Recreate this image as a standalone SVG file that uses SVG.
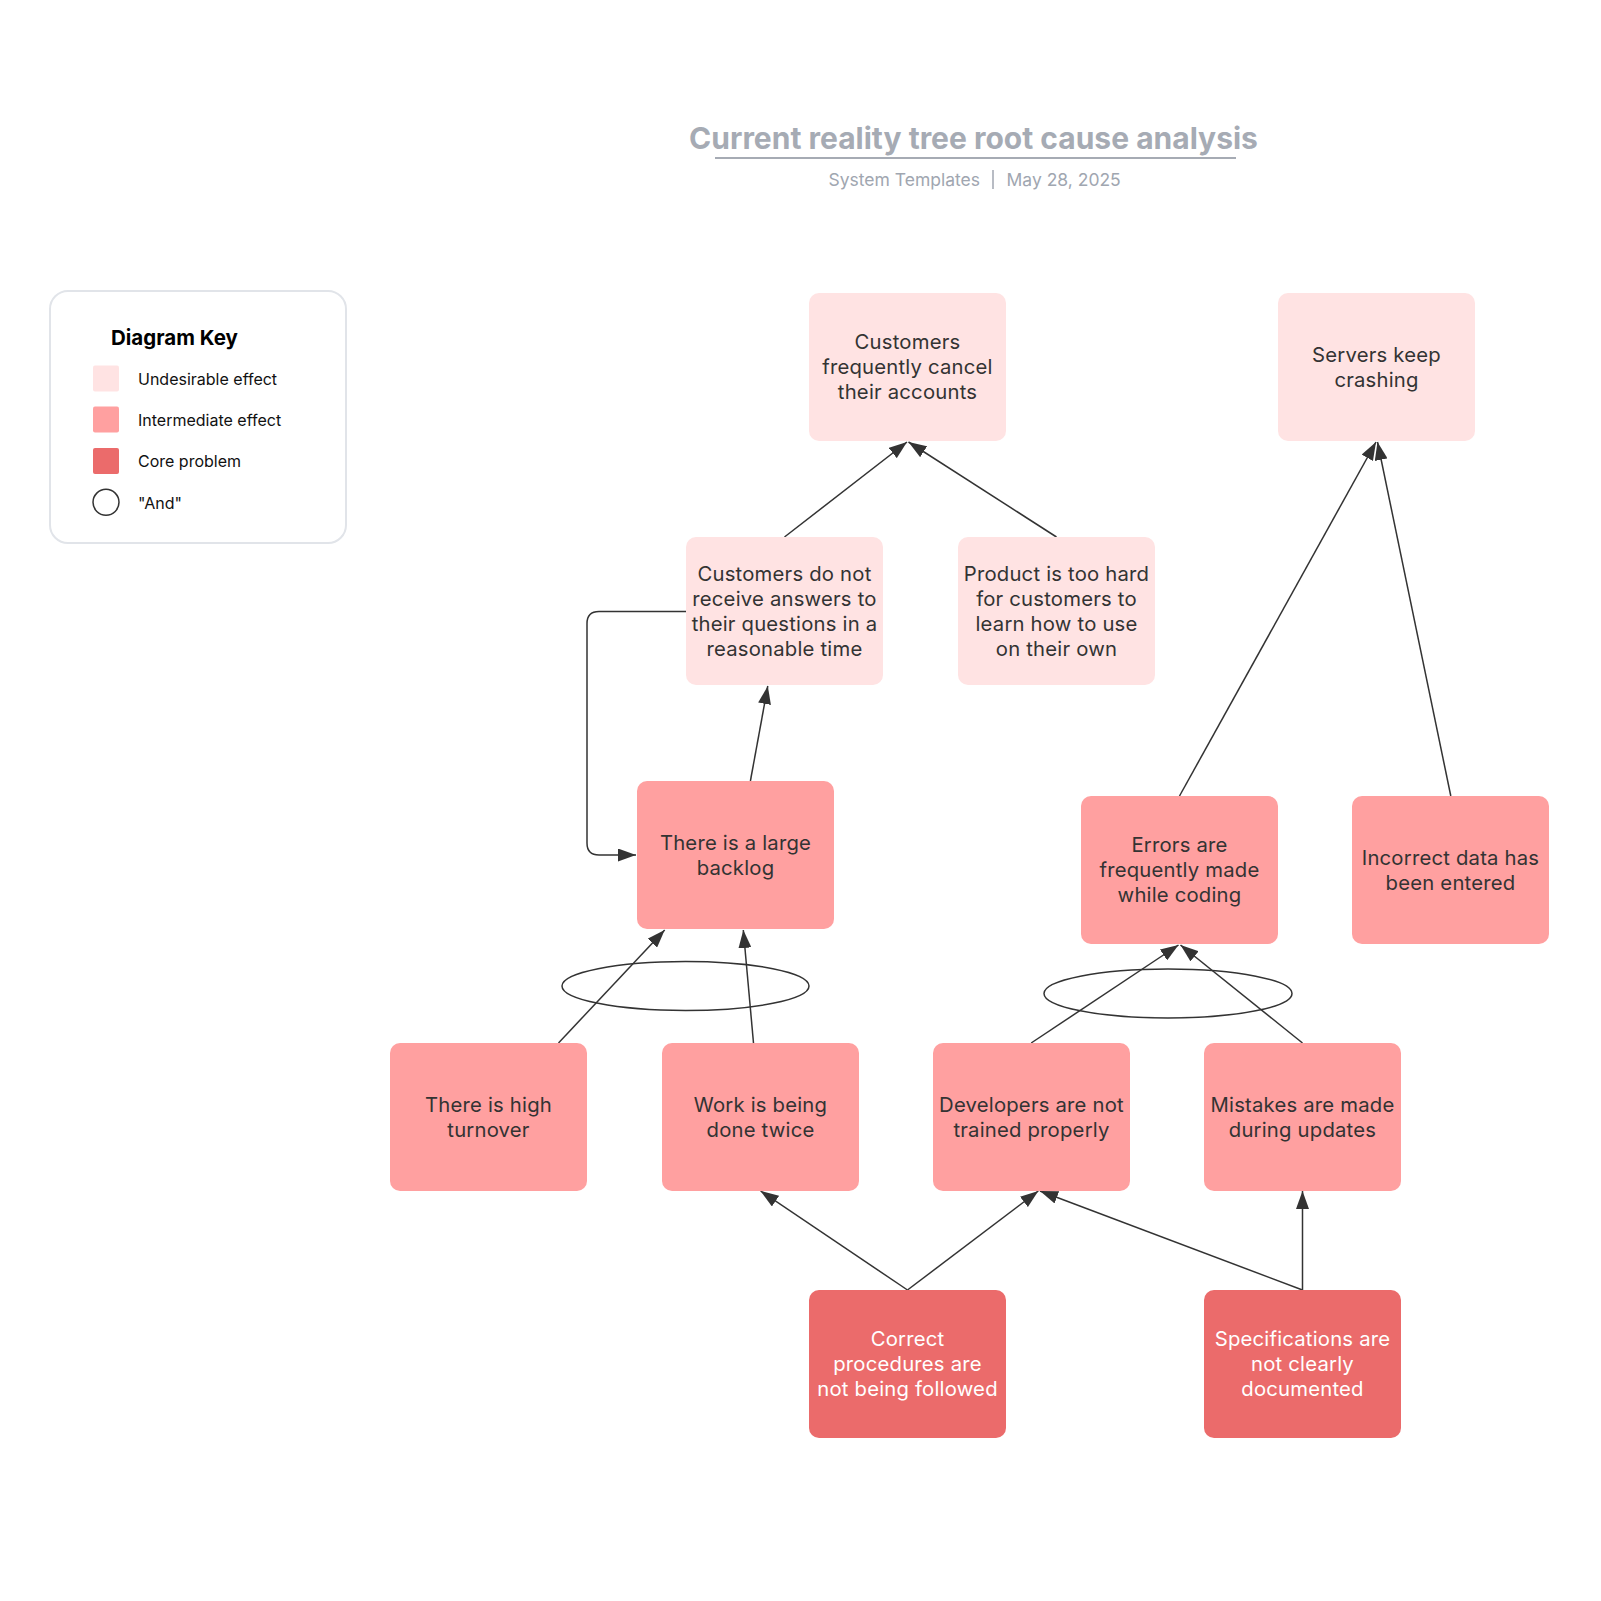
<svg xmlns="http://www.w3.org/2000/svg" width="1601" height="1601" viewBox="0 0 1601 1601">
<style>
  .ue{fill:#FFE3E3}
  .ie{fill:#FFA0A0}
  .cp{fill:#EB6B6B}
  .t{font-family:Inter,"Noto Sans","Liberation Sans",sans-serif;font-size:20.3px;fill:#333333;text-anchor:middle;letter-spacing:0.2px}
  .tw{fill:#FFFFFF}
  .k{font-family:Inter,"Noto Sans","Liberation Sans",sans-serif;font-size:16px;fill:#111111}
  .c{fill:none;stroke:#333333;stroke-width:1.5}
</style>
<defs>
  <marker id="ah" viewBox="0 0 18 13" refX="18" refY="6.5" markerWidth="18" markerHeight="13" markerUnits="userSpaceOnUse" orient="auto">
    <path d="M0,0 L18,6.5 L0,13 z" fill="#333333"/>
  </marker>
</defs>
<rect width="1601" height="1601" fill="#FFFFFF"/>

<g id="title">
  <text x="973.5" y="149" font-family="Inter,'Noto Sans','Liberation Sans',sans-serif" font-size="30" font-weight="bold" fill="#A6ABB4" text-anchor="middle">Current reality tree root cause analysis</text>
  <line x1="715" y1="158" x2="1236" y2="158" stroke="#A6ABB4" stroke-width="2"/>
  <text x="980" y="186" font-family="Inter,'Noto Sans','Liberation Sans',sans-serif" font-size="17.5" fill="#A0A6B0" text-anchor="end">System Templates</text>
  <line x1="993" y1="170" x2="993" y2="189" stroke="#A0A6B0" stroke-width="1.5"/>
  <text x="1006.5" y="186" font-family="Inter,'Noto Sans','Liberation Sans',sans-serif" font-size="17.5" fill="#A0A6B0">May 28, 2025</text>
</g>

<g id="legend">
  <rect x="50" y="291" width="296" height="252" rx="18" fill="#FFFFFF" stroke="#E1E4E9" stroke-width="2"/>
  <text x="111" y="345" font-family="Inter,'Noto Sans','Liberation Sans',sans-serif" font-size="20.5" font-weight="bold" fill="#000000">Diagram Key</text>
  <rect x="93" y="365.5" width="26" height="26" rx="2" class="ue"/>
  <text x="138" y="384.5" class="k">Undesirable effect</text>
  <rect x="93" y="406.5" width="26" height="26" rx="2" class="ie"/>
  <text x="138" y="425.5" class="k">Intermediate effect</text>
  <rect x="93" y="448" width="26" height="26" rx="2" class="cp"/>
  <text x="138" y="467" class="k">Core problem</text>
  <circle cx="106" cy="502.3" r="13" fill="#FFFFFF" stroke="#333333" stroke-width="1.5"/>
  <text x="138" y="508.5" class="k">"And"</text>
</g>

<g id="connectors">
  <line class="c" x1="784.5" y1="537" x2="907" y2="442" marker-end="url(#ah)"/>
  <line class="c" x1="1056.5" y1="537" x2="908.5" y2="442" marker-end="url(#ah)"/>
  <line class="c" x1="750.4" y1="781" x2="767.8" y2="686" marker-end="url(#ah)"/>
  <path class="c" d="M686,611.6 H599 Q587,611.6 587,623.6 V843 Q587,855 599,855 H636" marker-end="url(#ah)"/>
  <line class="c" x1="558.5" y1="1043" x2="664.7" y2="930" marker-end="url(#ah)"/>
  <line class="c" x1="753.5" y1="1043" x2="743.3" y2="930" marker-end="url(#ah)"/>
  <ellipse class="c" cx="685.5" cy="986" rx="123.5" ry="24.5"/>
  <line class="c" x1="1031.2" y1="1043" x2="1178.5" y2="945" marker-end="url(#ah)"/>
  <line class="c" x1="1302.5" y1="1043" x2="1180.5" y2="945" marker-end="url(#ah)"/>
  <ellipse class="c" cx="1168" cy="993.5" rx="124" ry="24.5"/>
  <line class="c" x1="1179.5" y1="796" x2="1376" y2="442" marker-end="url(#ah)"/>
  <line class="c" x1="1450.8" y1="796" x2="1377.5" y2="442" marker-end="url(#ah)"/>
  <line class="c" x1="907.5" y1="1290" x2="760.6" y2="1191" marker-end="url(#ah)"/>
  <line class="c" x1="907.5" y1="1290" x2="1038.3" y2="1191" marker-end="url(#ah)"/>
  <line class="c" x1="1302.5" y1="1290" x2="1040" y2="1191" marker-end="url(#ah)"/>
  <line class="c" x1="1302.5" y1="1290" x2="1302.5" y2="1191" marker-end="url(#ah)"/>
</g>

<g id="n-cancel">
  <rect x="809" y="293" width="197" height="148" rx="10" class="ue"/>
  <text class="t"><tspan x="907.5" y="349">Customers</tspan><tspan x="907.5" y="374">frequently cancel</tspan><tspan x="907.5" y="399">their accounts</tspan></text>
</g>
<g id="n-servers">
  <rect x="1278" y="293" width="197" height="148" rx="10" class="ue"/>
  <text class="t"><tspan x="1376.5" y="362">Servers keep</tspan><tspan x="1376.5" y="387">crashing</tspan></text>
</g>
<g id="n-answers">
  <rect x="686" y="537" width="197" height="148" rx="10" class="ue"/>
  <text class="t"><tspan x="784.5" y="581">Customers do not</tspan><tspan x="784.5" y="606">receive answers to</tspan><tspan x="784.5" y="631">their questions in a</tspan><tspan x="784.5" y="656">reasonable time</tspan></text>
</g>
<g id="n-product">
  <rect x="958" y="537" width="197" height="148" rx="10" class="ue"/>
  <text class="t"><tspan x="1056.5" y="581">Product is too hard</tspan><tspan x="1056.5" y="606">for customers to</tspan><tspan x="1056.5" y="631">learn how to use</tspan><tspan x="1056.5" y="656">on their own</tspan></text>
</g>
<g id="n-backlog">
  <rect x="637" y="781" width="197" height="148" rx="10" class="ie"/>
  <text class="t"><tspan x="735.5" y="850">There is a large</tspan><tspan x="735.5" y="875">backlog</tspan></text>
</g>
<g id="n-errors">
  <rect x="1081" y="796" width="197" height="148" rx="10" class="ie"/>
  <text class="t"><tspan x="1179.5" y="852">Errors are</tspan><tspan x="1179.5" y="877">frequently made</tspan><tspan x="1179.5" y="902">while coding</tspan></text>
</g>
<g id="n-incorrect">
  <rect x="1352" y="796" width="197" height="148" rx="10" class="ie"/>
  <text class="t"><tspan x="1450.5" y="865">Incorrect data has</tspan><tspan x="1450.5" y="890">been entered</tspan></text>
</g>
<g id="n-turnover">
  <rect x="390" y="1043" width="197" height="148" rx="10" class="ie"/>
  <text class="t"><tspan x="488.5" y="1112">There is high</tspan><tspan x="488.5" y="1137">turnover</tspan></text>
</g>
<g id="n-twice">
  <rect x="662" y="1043" width="197" height="148" rx="10" class="ie"/>
  <text class="t"><tspan x="760.5" y="1112">Work is being</tspan><tspan x="760.5" y="1137">done twice</tspan></text>
</g>
<g id="n-trained">
  <rect x="933" y="1043" width="197" height="148" rx="10" class="ie"/>
  <text class="t"><tspan x="1031.5" y="1112">Developers are not</tspan><tspan x="1031.5" y="1137">trained properly</tspan></text>
</g>
<g id="n-mistakes">
  <rect x="1204" y="1043" width="197" height="148" rx="10" class="ie"/>
  <text class="t"><tspan x="1302.5" y="1112">Mistakes are made</tspan><tspan x="1302.5" y="1137">during updates</tspan></text>
</g>
<g id="n-procedures">
  <rect x="809" y="1290" width="197" height="148" rx="10" class="cp"/>
  <text class="t tw"><tspan x="907.5" y="1346">Correct</tspan><tspan x="907.5" y="1371">procedures are</tspan><tspan x="907.5" y="1396">not being followed</tspan></text>
</g>
<g id="n-specs">
  <rect x="1204" y="1290" width="197" height="148" rx="10" class="cp"/>
  <text class="t tw"><tspan x="1302.5" y="1346">Specifications are</tspan><tspan x="1302.5" y="1371">not clearly</tspan><tspan x="1302.5" y="1396">documented</tspan></text>
</g>
</svg>
